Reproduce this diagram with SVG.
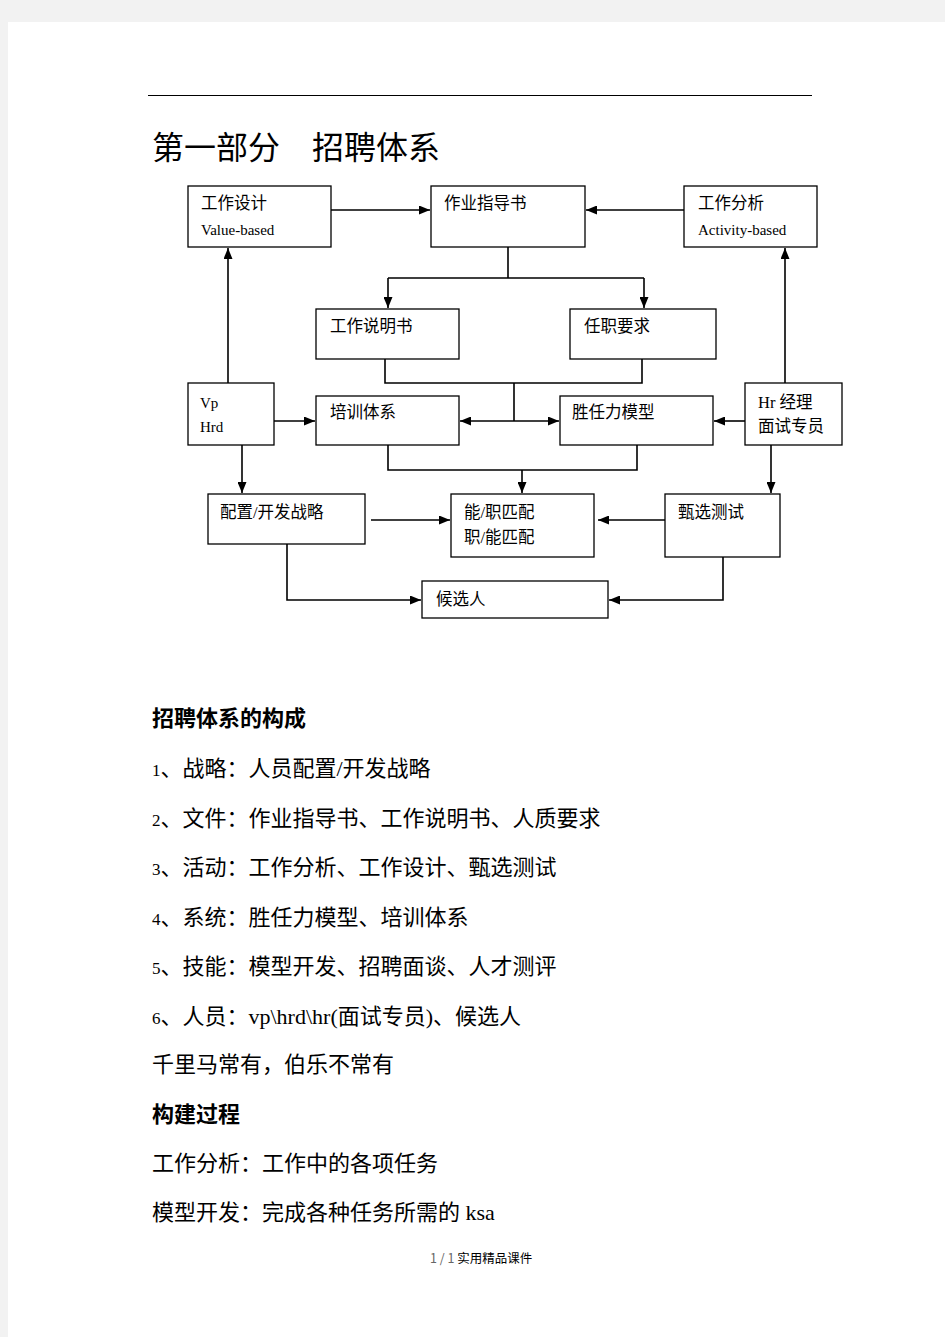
<svg xmlns="http://www.w3.org/2000/svg" width="945" height="1337" viewBox="0 0 945 1337">
<style>
.box{fill:#fff;stroke:#000;stroke-width:1.3}
.bt{font-family:"Liberation Serif","Noto Sans CJK SC",serif;font-size:16.5px;fill:#000}
.bl{font-family:"Liberation Serif","Noto Sans CJK SC",serif;font-size:15px;fill:#000}
.tx{font-family:"Liberation Serif","Noto Sans CJK SC",serif;font-size:22px;fill:#000}
.hd{font-family:"Liberation Serif","Noto Sans CJK SC",serif;font-size:22px;font-weight:bold;fill:#000}
.num{font-size:17px}
.cn{fill:none;stroke:#000;stroke-width:1.6}
</style>
<defs>
<marker id="ah" viewBox="0 0 10 10" refX="10" refY="5" markerWidth="11" markerHeight="9" markerUnits="userSpaceOnUse" orient="auto" preserveAspectRatio="none"><path d="M0,0 L10,5 L0,10 z" fill="#000"/></marker>
</defs>
<rect x="0" y="0" width="945" height="1337" fill="#f2f2f2"/>
<rect x="8" y="22" width="937" height="1315" fill="#fff"/>
<line x1="148" y1="95.5" x2="812" y2="95.5" stroke="#000" stroke-width="1"/>
<text x="152" y="159" font-family="'Liberation Serif','Noto Sans CJK SC',serif" font-size="32" fill="#000">第一部分　招聘体系</text>

<g id="connectors">
<path class="cn" d="M331,210 H430" marker-end="url(#ah)"/>
<path class="cn" d="M684,210 H586" marker-end="url(#ah)"/>
<path class="cn" d="M508,247 V278 M388,278 H644"/>
<path class="cn" d="M388,278 V308" marker-end="url(#ah)"/>
<path class="cn" d="M644,278 V308" marker-end="url(#ah)"/>
<path class="cn" d="M385,359 V383 H642 V359 M514,383 V421"/>
<path class="cn" d="M514,421 H460" marker-end="url(#ah)"/>
<path class="cn" d="M514,421 H559" marker-end="url(#ah)"/>
<path class="cn" d="M274,421 H315" marker-end="url(#ah)"/>
<path class="cn" d="M745,421 H714" marker-end="url(#ah)"/>
<path class="cn" d="M228,383 V248" marker-end="url(#ah)"/>
<path class="cn" d="M785,383 V248" marker-end="url(#ah)"/>
<path class="cn" d="M242,445 V493" marker-end="url(#ah)"/>
<path class="cn" d="M771,445 V493" marker-end="url(#ah)"/>
<path class="cn" d="M388,445 V470 H637 V445"/>
<path class="cn" d="M522,470 V493" marker-end="url(#ah)"/>
<path class="cn" d="M371,520 H450" marker-end="url(#ah)"/>
<path class="cn" d="M665,520 H598" marker-end="url(#ah)"/>
<path class="cn" d="M287,544 V600 H421" marker-end="url(#ah)"/>
<path class="cn" d="M723,557 V600 H609" marker-end="url(#ah)"/>
</g>

<g id="n-gongzuosheji"><rect class="box" x="188" y="186" width="143" height="61"/><text class="bt" x="201" y="209">工作设计</text><text class="bl" x="201" y="235">Value-based</text></g>
<g id="n-zuoyezhidaoshu"><rect class="box" x="431" y="186" width="154" height="61"/><text class="bt" x="444" y="209">作业指导书</text></g>
<g id="n-gongzuofenxi"><rect class="box" x="684" y="186" width="133" height="61"/><text class="bt" x="698" y="209">工作分析</text><text class="bl" x="698" y="235">Activity-based</text></g>
<g id="n-gongzuoshuomingshu"><rect class="box" x="316" y="309" width="143" height="50"/><text class="bt" x="330" y="332">工作说明书</text></g>
<g id="n-renzhiyaoqiu"><rect class="box" x="570" y="309" width="146" height="50"/><text class="bt" x="584" y="332">任职要求</text></g>
<g id="n-vphrd"><rect class="box" x="188" y="383" width="86" height="62"/><text class="bl" x="200" y="408">Vp</text><text class="bl" x="200" y="432">Hrd</text></g>
<g id="n-peixuntixi"><rect class="box" x="316" y="396" width="143" height="49"/><text class="bt" x="330" y="418">培训体系</text></g>
<g id="n-shengrenli"><rect class="box" x="560" y="396" width="153" height="49"/><text class="bt" x="572" y="418">胜任力模型</text></g>
<g id="n-hr"><rect class="box" x="745" y="383" width="97" height="62"/><text class="bt" x="758" y="408">Hr 经理</text><text class="bt" x="758" y="432">面试专员</text></g>
<g id="n-peizhi"><rect class="box" x="208" y="494" width="157" height="50"/><text class="bt" x="220" y="518">配置/开发战略</text></g>
<g id="n-pipei"><rect class="box" x="451" y="494" width="143" height="63"/><text class="bt" x="464" y="518">能/职匹配</text><text class="bt" x="464" y="543">职/能匹配</text></g>
<g id="n-zhenxuan"><rect class="box" x="665" y="494" width="115" height="63"/><text class="bt" x="678" y="518">甄选测试</text></g>
<g id="n-houxuanren"><rect class="box" x="422" y="581" width="186" height="37"/><text class="bt" x="436" y="605">候选人</text></g>

<text class="hd" x="152" y="726">招聘体系的构成</text>
<text class="tx" x="152" y="776"><tspan class="num">1</tspan>、战略：人员配置/开发战略</text>
<text class="tx" x="152" y="826"><tspan class="num">2</tspan>、文件：作业指导书、工作说明书、人质要求</text>
<text class="tx" x="152" y="875"><tspan class="num">3</tspan>、活动：工作分析、工作设计、甄选测试</text>
<text class="tx" x="152" y="925"><tspan class="num">4</tspan>、系统：胜任力模型、培训体系</text>
<text class="tx" x="152" y="974"><tspan class="num">5</tspan>、技能：模型开发、招聘面谈、人才测评</text>
<text class="tx" x="152" y="1024"><tspan class="num">6</tspan>、人员：vp\hrd\hr(面试专员)、候选人</text>
<text class="tx" x="152" y="1072">千里马常有，伯乐不常有</text>
<text class="hd" x="152" y="1122">构建过程</text>
<text class="tx" x="152" y="1171">工作分析：工作中的各项任务</text>
<text class="tx" x="152" y="1220">模型开发：完成各种任务所需的 ksa</text>
<text x="430" y="1263" font-family="'Noto Sans CJK SC','Liberation Sans',sans-serif" font-size="12.5" fill="#000"><tspan fill="#666">1 / 1 </tspan>实用精品课件</text>
</svg>
